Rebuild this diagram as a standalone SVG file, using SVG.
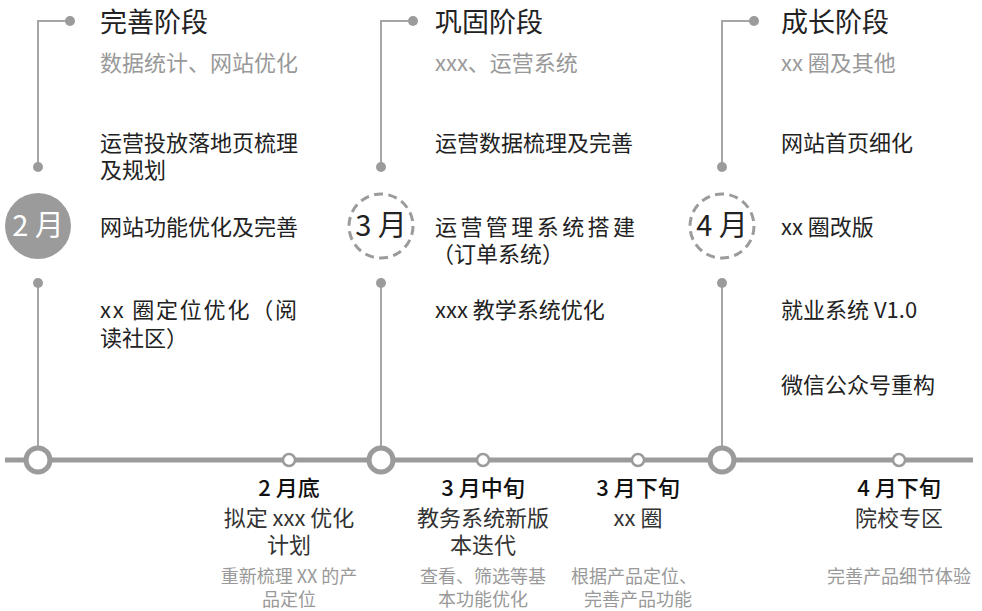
<svg xmlns="http://www.w3.org/2000/svg" width="982" height="611" viewBox="0 0 982 611">
<style>
text{font-family:"Noto Sans CJK SC","Noto Sans",sans-serif;}
.title{font-size:27px;fill:#222;}
.sub{font-size:22px;fill:#999;}
.item{font-size:22px;fill:#222;}
.month{font-size:29px;text-anchor:middle;}
.bt{font-size:22px;fill:#111;text-anchor:middle;font-weight:500;}
.bd{font-size:22px;fill:#333;text-anchor:middle;}
.bs{font-size:18px;fill:#999;text-anchor:middle;}
.vline{stroke:#a6a6a6;stroke-width:2;fill:none;}
.dot{fill:#9b9b9b;}
.big{fill:#fff;stroke:#9b9b9b;stroke-width:5;}
.small{fill:#fff;stroke:#9b9b9b;stroke-width:2.5;}
.dash{fill:#fff;stroke:#9b9b9b;stroke-width:3;stroke-dasharray:9 5.36;}
</style>
<g id="connectors">
<path class="vline" d="M70,21 H38 V167"/>
<path class="vline" d="M38,283 V460"/>
<path class="vline" d="M413,21 H381 V167"/>
<path class="vline" d="M381,283 V460"/>
<path class="vline" d="M754,21 H722 V167"/>
<path class="vline" d="M722,283 V460"/>
<line x1="5" y1="460" x2="973" y2="460" stroke="#9b9b9b" stroke-width="5"/>
</g>
<g id="dots">
<circle class="dot" cx="70" cy="21" r="5"/>
<circle class="dot" cx="38" cy="167" r="5"/>
<circle class="dot" cx="38" cy="283" r="5"/>
<circle class="dot" cx="413" cy="21" r="5"/>
<circle class="dot" cx="381" cy="167" r="5"/>
<circle class="dot" cx="381" cy="283" r="5"/>
<circle class="dot" cx="754" cy="21" r="5"/>
<circle class="dot" cx="722" cy="167" r="5"/>
<circle class="dot" cx="722" cy="283" r="5"/>
</g>
<g id="stage1">
<text class="title" x="100" y="32">完善阶段</text>
<text class="sub" x="100" y="71">数据统计、网站优化</text>
<text class="item" x="100" y="151">运营投放落地页梳理</text>
<text class="item" x="100" y="178">及规划</text>
<text class="item" x="100" y="235">网站功能优化及完善</text>
<text class="item" x="100" y="318" textLength="197" lengthAdjust="spacing">xx 圈定位优化（阅</text>
<text class="item" x="100" y="346">读社区）</text>
</g>
<g id="month2">
<circle cx="38" cy="226" r="33" fill="#9b9b9b"/>
<text class="month" x="38" y="236" fill="#fff">2 月</text>
</g>
<g id="stage2">
<text class="title" x="435" y="32">巩固阶段</text>
<text class="sub" x="435" y="71">xxx、运营系统</text>
<text class="item" x="435" y="151">运营数据梳理及完善</text>
<text class="item" x="435" y="235" textLength="200" lengthAdjust="spacing">运营管理系统搭建</text>
<text class="item" x="432" y="262">（订单系统）</text>
<text class="item" x="435" y="318">xxx 教学系统优化</text>
</g>
<g id="month3">
<circle class="dash" cx="381" cy="226" r="32"/>
<text class="month" x="381" y="236" fill="#222">3 月</text>
</g>
<g id="stage3">
<text class="title" x="781" y="32">成长阶段</text>
<text class="sub" x="781" y="71">xx 圈及其他</text>
<text class="item" x="781" y="151">网站首页细化</text>
<text class="item" x="781" y="235">xx 圈改版</text>
<text class="item" x="781" y="318">就业系统 V1.0</text>
<text class="item" x="781" y="393">微信公众号重构</text>
</g>
<g id="month4">
<circle class="dash" cx="722" cy="226" r="32"/>
<text class="month" x="722" y="236" fill="#222">4 月</text>
</g>
<g id="milestones">
<circle class="big" cx="38" cy="460" r="12"/>
<circle class="big" cx="381" cy="460" r="12"/>
<circle class="big" cx="722" cy="460" r="12"/>
<circle class="small" cx="289" cy="460" r="6"/>
<circle class="small" cx="483" cy="460" r="6"/>
<circle class="small" cx="638" cy="460" r="6"/>
<circle class="small" cx="899" cy="460" r="6"/>
</g>
<g id="m1">
<text class="bt" x="289" y="496">2 月底</text>
<text class="bd" x="289" y="526">拟定 xxx 优化</text>
<text class="bd" x="289" y="553">计划</text>
<text class="bs" x="289" y="583">重新梳理 XX 的产</text>
<text class="bs" x="289" y="606">品定位</text>
</g>
<g id="m2">
<text class="bt" x="483" y="496">3 月中旬</text>
<text class="bd" x="483" y="526">教务系统新版</text>
<text class="bd" x="483" y="553">本迭代</text>
<text class="bs" x="483" y="583">查看、筛选等基</text>
<text class="bs" x="483" y="606">本功能优化</text>
</g>
<g id="m3">
<text class="bt" x="638" y="496">3 月下旬</text>
<text class="bd" x="638" y="526">xx 圈</text>
<text class="bs" x="634" y="583">根据产品定位、</text>
<text class="bs" x="638" y="606">完善产品功能</text>
</g>
<g id="m4">
<text class="bt" x="899" y="496">4 月下旬</text>
<text class="bd" x="899" y="526">院校专区</text>
<text class="bs" x="899" y="583">完善产品细节体验</text>
</g>
</svg>
